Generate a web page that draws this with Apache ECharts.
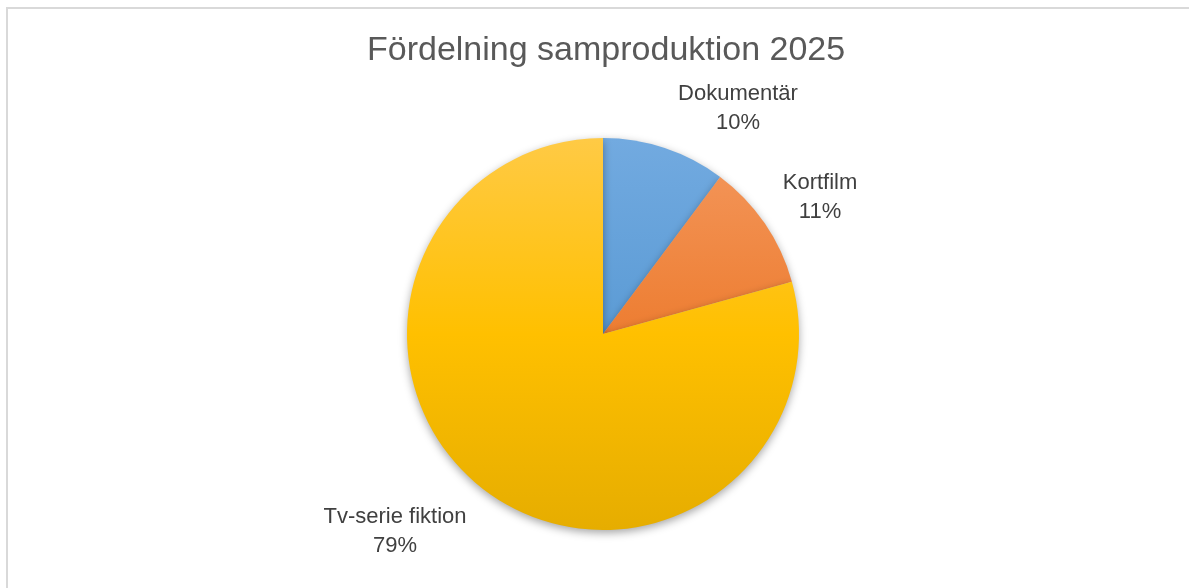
<!DOCTYPE html>
<html>
<head>
<meta charset="utf-8">
<script src="https://cdn.jsdelivr.net/npm/echarts@6/dist/echarts.min.js"></script>
<style>
  html, body { margin: 0; padding: 0; background: #fff; }
  #chart { width: 1189px; height: 588px; }
</style>
</head>
<body>
<div id="chart"></div>
<script>
const categories = ['Dokumentär', 'Kortfilm', 'Tv-serie fiktion']
const values = [10.2, 10.5, 79.3]

// excel-ish fills, lighter at top of the pie, darker at the bottom
const fills = [
  ['#72aae0', '#5b9bd5', '#4486c6'],
  ['#f4985e', '#ed7d31', '#d96a1e'],
  ['#ffca45', '#ffc000', '#e6ad00'],
]
// label centers, Excel places them itself
const labelPos = [[738, 108], [820, 197], [395, 531]]

const cx = 603, cy = 334, r = 196

const chart = echarts.init(document.getElementById('chart'))

chart.setOption({
  backgroundColor: '#fff',
  animation: false,
  title: {
    text: 'Fördelning samproduktion 2025',
    left: 362,
    top: 29,
    textStyle: {
      fontFamily: 'Liberation Sans',
      fontSize: 34,
      fontWeight: 'normal',
      color: '#595959',
    },
  },
  graphic: [{
    type: 'rect',
    shape: { x: 7, y: 8, width: 1300, height: 700 },
    style: { fill: 'none', stroke: '#d9d9d9', lineWidth: 2 },
    silent: true,
  }],
  series: [{
    type: 'pie',
    center: [cx, cy],
    radius: [0, r],
    startAngle: 90,
    clockwise: true,
    percentPrecision: 0,
    avoidLabelOverlap: false,
    data: categories.map((name, i) => ({
      name,
      value: values[i],
      itemStyle: {
        color: new echarts.graphic.LinearGradient(0, cy - r, 0, cy + r, [
          { offset: 0, color: fills[i][0] },
          { offset: 0.5, color: fills[i][1] },
          { offset: 1, color: fills[i][2] },
        ], true),
      },
    })),
    itemStyle: {
      borderWidth: 0,
      shadowBlur: 8,
      shadowOffsetY: 3,
      shadowColor: 'rgba(0,0,0,0.35)',
    },
    label: {
      show: true,
      position: 'outside',
      formatter: '{b}\n{d}%',
      fontFamily: 'Liberation Sans',
      fontSize: 22,
      lineHeight: 29,
      color: '#404040',
      align: 'center',
    },
    labelLine: { show: false },
    labelLayout: (p) => ({
      x: labelPos[p.dataIndex][0],
      y: labelPos[p.dataIndex][1],
      align: 'center',
      verticalAlign: 'middle',
    }),
  }],
})
</script>
</body>
</html>
